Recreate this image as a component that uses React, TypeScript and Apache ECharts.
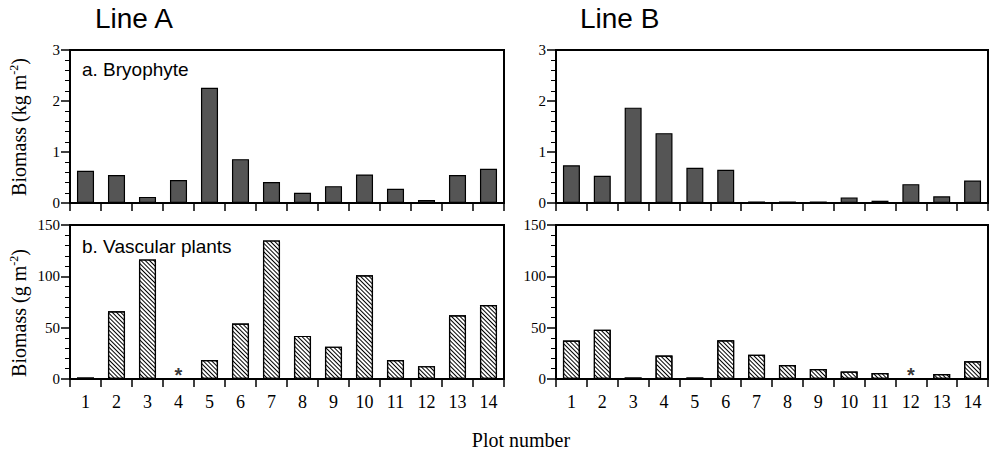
import React, { useEffect, useRef } from 'react';
import * as echarts from 'echarts';

const plots = ['1', '2', '3', '4', '5', '6', '7', '8', '9', '10', '11', '12', '13', '14'];
const bryophyteLineA = [0.63, 0.55, 0.12, 0.45, 2.26, 0.86, 0.41, 0.2, 0.33, 0.56, 0.28, 0.06, 0.55, 0.67];
const bryophyteLineB = [0.74, 0.535, 1.87, 1.37, 0.69, 0.65, 0.03, 0.025, 0.02, 0.11, 0.045, 0.37, 0.13, 0.44];
const vascularLineA = [1, 66, 116.5, null, 18.5, 54, 135, 42, 31.5, 101, 18.5, 12.5, 62, 72];
const vascularLineB = [37.5, 48, 1, 22.8, 0.8, 37.8, 23.5, 13.7, 9.8, 7.2, 5.9, null, 4.9, 17.3];
const missingLineA = ['4'];
const missingLineB = ['12'];
const bryophyteAxis = { max: 3, interval: 1 };
const vascularAxis = { max: 150, interval: 50 };

const SERIF = 'Liberation Serif';
const SANS = 'Liberation Sans';

export default function App() {
  const ref = useRef<HTMLDivElement>(null);
  useEffect(() => {
    if (!ref.current) return;
    const chart = echarts.init(ref.current, null, { renderer: 'svg' });
    const grids = [
      { left: 70, top: 50, width: 434, height: 153 },
      { left: 556, top: 50, width: 432, height: 153 },
      { left: 70, top: 225, width: 434, height: 154 },
      { left: 556, top: 225, width: 432, height: 154 },
    ].map((g) => ({ ...g, show: true, borderColor: '#000', borderWidth: 2, backgroundColor: 'transparent', containLabel: false }));

    const xAxis = [0, 1, 2, 3].map((i) => ({
      type: 'category',
      gridIndex: i,
      data: plots,
      axisLine: { show: true, lineStyle: { color: '#000', width: 2 } },
      axisTick: { show: true, length: 8, interval: 0, lineStyle: { color: '#000', width: 1.5 } },
      axisLabel: { show: i >= 2, interval: 0, fontFamily: SERIF, fontSize: 18, color: '#000', margin: 14 },
    }));
    const yAxis = [0, 1, 2, 3].map((i) => {
      const ax = i < 2 ? bryophyteAxis : vascularAxis;
      return {
        type: 'value',
        gridIndex: i,
        min: 0,
        max: ax.max,
        interval: ax.interval,
        axisLine: { show: true, onZero: false, lineStyle: { color: '#000', width: 2 } },
        axisTick: { show: true, length: 9, lineStyle: { color: '#000', width: 1.5 } },
        minorTick: { show: true, splitNumber: 5, length: 5, lineStyle: { color: '#000', width: 1 } },
        splitLine: { show: false },
        minorSplitLine: { show: false },
        axisLabel: { fontFamily: SERIF, fontSize: 15, color: '#000', margin: 10 },
      };
    });

    const solidStyle = { color: '#555', borderColor: '#000', borderWidth: 1.2 };
    const hatchStyle = {
      color: '#fff',
      borderColor: '#000',
      borderWidth: 1.2,
      decal: {
        symbol: 'rect',
        symbolSize: 1,
        color: '#000',
        backgroundColor: '#fff',
        dashArrayX: [1, 0],
        dashArrayY: [1, 2],
        rotation: Math.PI / 4,
      },
    };
    const bar = (i: number, data: (number | null)[], style: any) => ({
      type: 'bar',
      xAxisIndex: i,
      yAxisIndex: i,
      data,
      barWidth: '55%',
      barMinHeight: 1.5,
      itemStyle: style,
    });
    const star = (i: number, cats: string[]) => ({
      type: 'scatter',
      xAxisIndex: i,
      yAxisIndex: i,
      data: cats.map((c) => [c, 0]),
      symbolSize: 1,
      itemStyle: { color: 'rgba(0,0,0,0)' },
      label: {
        show: true,
        position: 'top',
        distance: 0,
        offset: [0, 6],
        formatter: '*',
        fontFamily: SANS,
        fontWeight: 'bold',
        fontSize: 20,
        color: '#000',
      },
    });

    const richLabel = {
      a: { fontFamily: SERIF, fontSize: 20, color: '#000' },
      s: { fontFamily: SERIF, fontSize: 12, color: '#000', padding: [0, 0, 10, 0] },
    };

    chart.setOption({
      animation: false,
      backgroundColor: '#fff',
      grid: grids,
      xAxis,
      yAxis,
      series: [
        bar(0, bryophyteLineA, solidStyle),
        bar(1, bryophyteLineB, solidStyle),
        bar(2, vascularLineA, hatchStyle),
        bar(3, vascularLineB, hatchStyle),
        star(2, missingLineA),
        star(3, missingLineB),
      ],
      graphic: [
        { type: 'text', x: 95, y: 18, style: { text: 'Line A', fontFamily: SANS, fontSize: 28, fill: '#000', align: 'left', verticalAlign: 'middle' } },
        { type: 'text', x: 580, y: 18, style: { text: 'Line B', fontFamily: SANS, fontSize: 28, fill: '#000', align: 'left', verticalAlign: 'middle' } },
        { type: 'text', x: 82, y: 69, style: { text: 'a. Bryophyte', fontFamily: SANS, fontSize: 19, fill: '#000', align: 'left', verticalAlign: 'middle' } },
        { type: 'text', x: 82, y: 246, style: { text: 'b. Vascular plants', fontFamily: SANS, fontSize: 19, fill: '#000', align: 'left', verticalAlign: 'middle' } },
        { type: 'text', x: 19, y: 127, rotation: Math.PI / 2, style: { text: '{a|Biomass (kg m}{s|-2}{a|)}', rich: richLabel, align: 'center', verticalAlign: 'middle' } },
        { type: 'text', x: 19, y: 313, rotation: Math.PI / 2, style: { text: '{a|Biomass (g m}{s|-2}{a|)}', rich: richLabel, align: 'center', verticalAlign: 'middle' } },
        { type: 'text', x: 521, y: 440, style: { text: 'Plot number', fontFamily: SERIF, fontSize: 20, fill: '#000', align: 'center', verticalAlign: 'middle' } },
      ],
    });
    return () => chart.dispose();
  }, []);
  return <div ref={ref} style={{ position: 'fixed', left: 0, top: 0, width: 989, height: 452 }} />;
}
